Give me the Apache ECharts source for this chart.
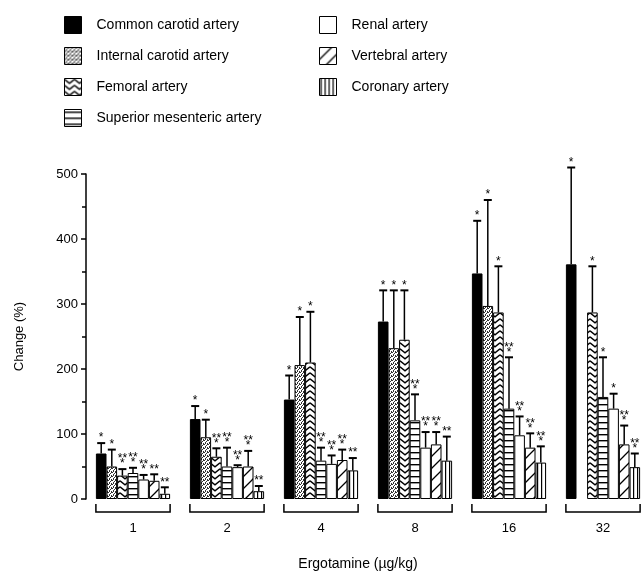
<!DOCTYPE html>
<html>
<head>
<meta charset="utf-8">
<script src="https://cdn.jsdelivr.net/npm/echarts@6/dist/echarts.min.js"></script>
<style>
html,body{margin:0;padding:0;background:#fff;}
#chart{width:641px;height:575px;}
</style>
</head>
<body>
<div id="chart"></div>
<script>
// ---------- DATA ----------
const categories = ['1', '2', '4', '8', '16', '32'];
const seriesNames = ['Common carotid artery', 'Internal carotid artery', 'Femoral artery',
  'Superior mesenteric artery', 'Renal artery', 'Vertebral artery', 'Coronary artery'];

const commonCarotid      = [70, 123, 153, 273, 347, 361];
const internalCarotid    = [50, 95, 206, 232, 297, null];
const femoral            = [36, 65, 210, 245, 287, 287];
const superiorMesenteric = [40, 50, 59, 121, 139, 157];
const renal              = [30, 49, 54, 79, 98, 139];
const vertebral          = [28, 50, 60, 84, 79, 84];
const coronary           = [8, 12, 44, 59, 56, 49];

const commonCarotidErr      = [16, 20, 37, 48, 81, 149];
const internalCarotidErr    = [26, 27, 74, 89, 163, null];
const femoralErr            = [10, 13, 78, 76, 71, 71];
const superiorMesentericErr = [8, 29, 20, 40, 79, 61];
const renalErr              = [7, 3, 13, 24, 29, 23];
const vertebralErr          = [10, 24, 16, 19, 22, 29];
const coronaryErr           = [10, 8, 19, 37, 25, 21];

const commonCarotidStars      = ['*', '*', '*', '*', '*', '*'];
const internalCarotidStars    = ['*', '*', '*', '*', '*', ''];
const femoralStars            = ['**|*', '**|*', '*', '*', '*', '*'];
const superiorMesentericStars = ['**|*', '**|*', '**|*', '**|*', '**|*', '*'];
const renalStars              = ['**|*', '**|*', '**|*', '**|*', '**|*', '*'];
const vertebralStars          = ['**', '**|*', '**|*', '**|*', '**|*', '**|*'];
const coronaryStars           = ['**', '**', '**', '**', '**|*', '**|*'];

const yTicks = [0, 100, 200, 300, 400, 500];

const means = [commonCarotid, internalCarotid, femoral, superiorMesenteric, renal, vertebral, coronary];
const errs = [commonCarotidErr, internalCarotidErr, femoralErr, superiorMesentericErr, renalErr, vertebralErr, coronaryErr];
const stars = [commonCarotidStars, internalCarotidStars, femoralStars, superiorMesentericStars, renalStars, vertebralStars, coronaryStars];

// ---------- STYLE ----------
const FONT = 'Liberation Sans, Arial, Helvetica, sans-serif';
const BW = 10.6;

function pat(w, h, draw) {
  const c = document.createElement('canvas');
  c.width = w; c.height = h;
  const g = c.getContext('2d');
  g.fillStyle = '#fff'; g.fillRect(0, 0, w, h);
  g.strokeStyle = '#000'; g.fillStyle = '#000';
  draw(g, w, h);
  return { image: c, repeat: 'repeat' };
}
const fills = [
  '#000',
  pat(4, 4, g => { g.fillStyle = '#333'; [[0,0],[2,1],[1,2],[3,3],[3,0],[1,3]].forEach(p => g.fillRect(p[0], p[1], 1, 1)); }),
  pat(10, 6, g => { g.lineWidth = 1.4; g.beginPath(); g.moveTo(0, 0.8); g.lineTo(5, 4.8); g.lineTo(10, 0.8); g.stroke(); }),
  pat(4, 6, g => { g.fillRect(0, 2, 4, 1.4); }),
  '#fff',
  pat(12, 12, g => { g.lineWidth = 1.3; g.beginPath(); g.moveTo(-1, 13); g.lineTo(13, -1); g.moveTo(-1, 1); g.lineTo(1, -1); g.moveTo(11, 13); g.lineTo(13, 11); g.stroke(); }),
  pat(4, 2, g => { g.fillRect(1, 0, 1.2, 2); })
];

const barSeries = seriesNames.map((name, i) => ({
  name: name,
  type: 'bar',
  data: means[i],
  barWidth: BW,
  barGap: '0%',
  itemStyle: { color: fills[i], borderColor: '#000', borderWidth: 1 },
  z: 2
}));

const errData = [];
const errStars = [];
means.forEach((arr, si) => {
  arr.forEach((v, ci) => {
    if (v == null) return;
    errData.push([ci, v, errs[si][ci], si]);
    errStars.push(stars[si][ci]);
  });
});

const errSeries = {
  type: 'custom',
  name: 'err',
  data: errData,
  encode: { x: 0, y: 1 },
  z: 5,
  clip: false,
  renderItem: function (params, api) {
    const ci = api.value(0), v = api.value(1), e = api.value(2), si = api.value(3);
    const b = api.coord([ci, v]);
    const t = api.coord([ci, v + e]);
    const x = b[0] + (si - 3) * BW;
    const children = [
      { type: 'line', shape: { x1: x, y1: b[1], x2: x, y2: t[1] }, style: { stroke: '#000', lineWidth: 1.5 } },
      { type: 'line', shape: { x1: x - 4, y1: t[1], x2: x + 4, y2: t[1] }, style: { stroke: '#000', lineWidth: 2 } }
    ];
    const s = errStars[params.dataIndex];
    if (s) {
      const rows = s.split('|');
      if (rows.length === 1) {
        children.push({ type: 'text', style: { text: rows[0], x: x, y: t[1] - 5, align: 'center', verticalAlign: 'middle', font: '12px ' + FONT, fill: '#000' } });
      } else {
        children.push({ type: 'text', style: { text: rows[0], x: x, y: t[1] - 10, align: 'center', verticalAlign: 'middle', font: '12px ' + FONT, fill: '#000' } });
        children.push({ type: 'text', style: { text: rows[1], x: x, y: t[1] - 5, align: 'center', verticalAlign: 'middle', font: '12px ' + FONT, fill: '#000' } });
      }
    }
    return { type: 'group', children: children };
  }
};

const bracketSeries = {
  type: 'custom',
  name: 'bracket',
  data: categories.map((c, i) => [i, 0]),
  encode: { x: 0, y: 1 },
  clip: false,
  z: 5,
  renderItem: function (params, api) {
    const p = api.coord([api.value(0), 0]);
    const half = 3.5 * BW;
    return {
      type: 'polyline',
      shape: { points: [[p[0] - half, p[1] + 5], [p[0] - half, p[1] + 13], [p[0] + half, p[1] + 13], [p[0] + half, p[1] + 5]] },
      style: { stroke: '#000', lineWidth: 1.5, fill: null }
    };
  }
};

const chart = echarts.init(document.getElementById('chart'), null, { renderer: 'canvas' });
const legendCommon = {
  orient: 'vertical',
  icon: 'rect',
  padding: 0,
  itemWidth: 17,
  itemHeight: 17,
  itemGap: 13,
  itemStyle: { borderColor: '#000', borderWidth: 1 },
  textStyle: { fontFamily: FONT, fontSize: 14, color: '#000', padding: [0, 0, 0, 10] },
  selectedMode: false
};
chart.setOption({
  animation: false,
  backgroundColor: '#fff',
  legend: [
    Object.assign({}, legendCommon, { left: 64, top: 16, data: seriesNames.slice(0, 4) }),
    Object.assign({}, legendCommon, { left: 319, top: 16, data: seriesNames.slice(4) })
  ],
  grid: { left: 86, top: 174, width: 564, height: 325, outerBoundsMode: 'none', containLabel: false },
  xAxis: {
    type: 'category',
    data: categories,
    axisLine: { show: false },
    axisTick: { show: false },
    axisLabel: { margin: 23, fontFamily: FONT, fontSize: 13, color: '#000' },
    name: 'Ergotamine (µg/kg)',
    nameLocation: 'middle',
    nameGap: 58,
    nameTextStyle: { fontFamily: FONT, fontSize: 14, color: '#000', padding: [0, 20, 0, 0] }
  },
  yAxis: {
    type: 'value',
    min: yTicks[0],
    max: yTicks[yTicks.length - 1],
    interval: 100,
    axisLine: { show: true, lineStyle: { color: '#000', width: 1.5 } },
    axisTick: { show: true, inside: false, length: 5, lineStyle: { color: '#000', width: 1.5 } },
    minorTick: { show: true, splitNumber: 2, length: 4, lineStyle: { color: '#000', width: 1.5 } },
    splitLine: { show: false },
    axisLabel: { margin: 8, fontFamily: FONT, fontSize: 13, color: '#000' },
    name: 'Change (%)',
    nameLocation: 'middle',
    nameGap: 60,
    nameTextStyle: { fontFamily: FONT, fontSize: 13, color: '#000' }
  },
  series: barSeries.concat([errSeries, bracketSeries])
});
</script>
</body>
</html>
